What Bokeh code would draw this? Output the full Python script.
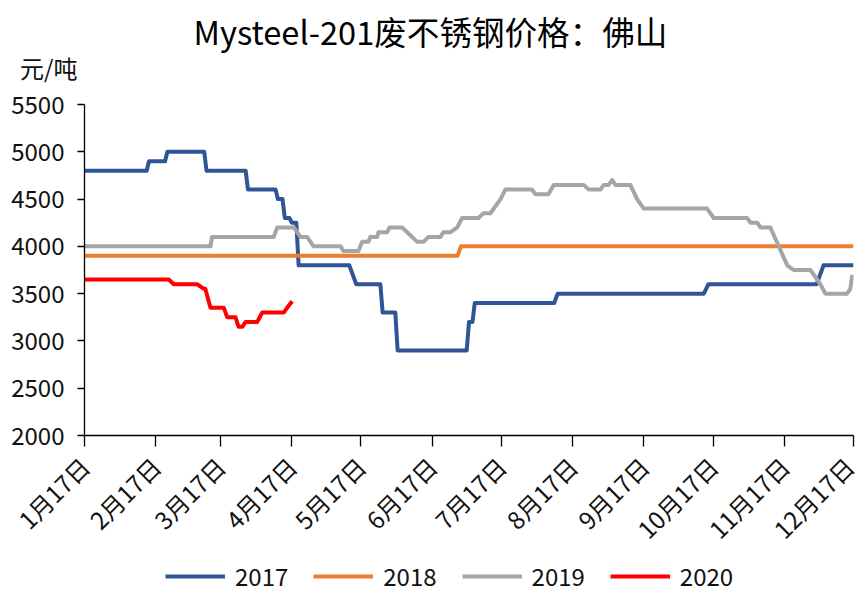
from bokeh.plotting import figure
from bokeh.models import (Range1d, FixedTicker, Legend, LegendItem, Label)
from bokeh.layouts import column
from bokeh.embed import file_html
from bokeh.resources import INLINE

# ---- data (x = days after 1月17日) ----
title_text = "Mysteel-201废不锈钢价格：佛山"
unit_text = "元/吨"
tick_days = [0, 31, 59, 90, 120, 151, 181, 212, 243, 273, 304, 334]
tick_labels = ["1月17日", "2月17日", "3月17日", "4月17日", "5月17日", "6月17日",
               "7月17日", "8月17日", "9月17日", "10月17日", "11月17日", "12月17日"]
y_ticks = [2000, 2500, 3000, 3500, 4000, 4500, 5000, 5500]

x_2017 = [0, 27, 28, 35, 36, 52, 53, 70, 71, 83, 84, 86, 87, 89, 90, 92, 93, 115, 118,
          128.5, 129.5, 135, 136, 166, 167, 168.5, 169.5, 204, 205.5, 269, 271, 318, 321, 334]
y_2017 = [4800, 4800, 4900, 4900, 5000, 5000, 4800, 4800, 4600, 4600, 4500, 4500, 4300, 4300,
          4250, 4250, 3800, 3800, 3600, 3600, 3300, 3300, 2900, 2900, 3200, 3200, 3400, 3400,
          3500, 3500, 3600, 3600, 3800, 3800]

x_2018 = [0, 162, 163.5, 334]
y_2018 = [3900, 3900, 4000, 4000]

x_2019 = [0, 54.7, 55.4, 82.2, 83.7, 90.9, 93.8, 96.7, 99.5, 111.2, 112.5, 119, 120.6, 123.3,
          124.2, 127.1, 127.7, 131.5, 132.5, 138, 144.4, 147.4, 149.4, 154.6, 155.9, 159, 161.9,
          164, 171.1, 173.3, 176.3, 180.7, 182.8, 194.4, 195.9, 201.5, 203.8, 216.8, 219, 224.1,
          225.5, 227.6, 229.2, 230.6, 237.1, 240, 242.9, 270.4, 273.3, 287.8, 289.3, 292.2, 293.6,
          297.9, 305.2, 308, 315.3, 319.6, 321.8, 331.2, 332.6, 333.5]
y_2019 = [4000, 4000, 4100, 4100, 4200, 4200, 4100, 4100, 4000, 4000, 3950, 3950, 4050, 4050,
          4100, 4100, 4150, 4150, 4200, 4200, 4050, 4050, 4100, 4100, 4150, 4150, 4200, 4300,
          4300, 4350, 4350, 4500, 4600, 4600, 4550, 4550, 4650, 4650, 4600, 4600, 4650, 4650,
          4700, 4650, 4650, 4500, 4400, 4400, 4300, 4300, 4250, 4250, 4200, 4200, 3800, 3750,
          3750, 3600, 3500, 3500, 3550, 3700]

x_2020 = [0, 36.6, 38.8, 48.9, 51.2, 52.5, 54.7, 60.5, 62, 65.6, 66.9, 68.6, 69.9, 75, 77.2,
          86.5, 88, 90.2]
y_2020 = [3650, 3650, 3600, 3600, 3560, 3550, 3350, 3350, 3250, 3250, 3150, 3150, 3200, 3200,
          3300, 3300, 3350, 3420]

series = [("2017", x_2017, y_2017, "#2F5597"),
          ("2018", x_2018, y_2018, "#ED7D31"),
          ("2019", x_2019, y_2019, "#A5A5A5"),
          ("2020", x_2020, y_2020, "#FF0000")]

FONT = "Noto Sans CJK SC"
TXT = "#111111"
W = 861
FL, FR = 84, 8          # left / right borders shared by all three strips (frames align)


def bare(fig):
    fig.outline_line_color = None
    fig.background_fill_color = "white"
    fig.border_fill_color = "white"
    fig.grid.visible = False


# ---- header strip: title + unit ----
HEAD_H = 86
head = figure(width=W, height=HEAD_H, output_backend="svg", toolbar_location=None,
              x_range=Range1d(FL, W - FR), y_range=Range1d(HEAD_H, 0),
              x_axis_type=None, min_border_left=FL, min_border_right=FR,
              min_border_top=0, min_border_bottom=0)
bare(head)
head.add_layout(Label(x=430, y=30, text=title_text, text_align="center",
                      text_baseline="middle", text_font=FONT, text_font_size="32.6px",
                      text_color="#000000"))
hy = head.yaxis[0]
hy.ticker = FixedTicker(ticks=[70])
hy.major_label_overrides = {70: unit_text}
hy.axis_line_color = None
hy.major_tick_line_color = None
hy.minor_tick_line_color = None
hy.major_tick_out = 0
hy.major_tick_in = 0
hy.major_label_standoff = 7
hy.major_label_text_font = FONT
hy.major_label_text_font_size = "24px"
hy.major_label_text_color = TXT

# ---- main chart ----
MAIN_H = 474
p = figure(width=W, height=MAIN_H, output_backend="svg", toolbar_location=None,
           x_range=Range1d(tick_days[0], tick_days[-1]),
           y_range=Range1d(y_ticks[0], y_ticks[-1]),
           min_border_left=FL, min_border_right=FR,
           min_border_top=104 - HEAD_H, min_border_bottom=HEAD_H + MAIN_H - 436)
bare(p)

for name, xs, ys, col in series:
    p.line(xs, ys, line_color=col, line_width=4, line_join="round")

for ax in (p.xaxis[0], p.yaxis[0]):
    ax.axis_line_color = "#000000"
    ax.axis_line_width = 1.3
    ax.major_tick_line_color = "#000000"
    ax.major_tick_line_width = 1.3
    ax.minor_tick_line_color = None
    ax.major_tick_in = 0
    ax.major_label_text_font = FONT
    ax.major_label_text_font_size = "24px"
    ax.major_label_text_color = TXT

p.yaxis[0].ticker = FixedTicker(ticks=y_ticks)
p.yaxis[0].major_tick_out = 7
p.yaxis[0].major_label_standoff = 13

p.xaxis[0].ticker = FixedTicker(ticks=tick_days)
p.xaxis[0].major_label_overrides = {d: l for d, l in zip(tick_days, tick_labels)}
p.xaxis[0].major_label_orientation = 0.785398
p.xaxis[0].major_tick_out = 11
p.xaxis[0].major_label_standoff = 15

# ---- legend strip (same series, drawn outside its view, only the legend shows) ----
LEG_H = 594 - HEAD_H - MAIN_H
lg = figure(width=W, height=LEG_H, output_backend="svg", toolbar_location=None,
            x_range=Range1d(0, 1), y_range=Range1d(0, 1),
            x_axis_type=None, y_axis_type=None, min_border_left=FL, min_border_right=FR,
            min_border_top=0, min_border_bottom=0)
bare(lg)
leg_items = []
for name, xs, ys, col in series:
    r = lg.line(xs, ys, line_color=col, line_width=4)
    leg_items.append(LegendItem(label=name, renderers=[r]))

legend = Legend(items=leg_items, orientation="horizontal", location=(165 - FL, 1),
                glyph_width=60, glyph_height=24, label_standoff=10, spacing=25,
                label_text_font=FONT, label_text_font_size="24px", label_text_color=TXT,
                label_height=24, padding=0, margin=0, border_line_color=None,
                background_fill_alpha=0)
lg.add_layout(legend, "center")

layout = column(head, p, lg, spacing=0)
open("out.html", "w").write(file_html(layout, INLINE))
